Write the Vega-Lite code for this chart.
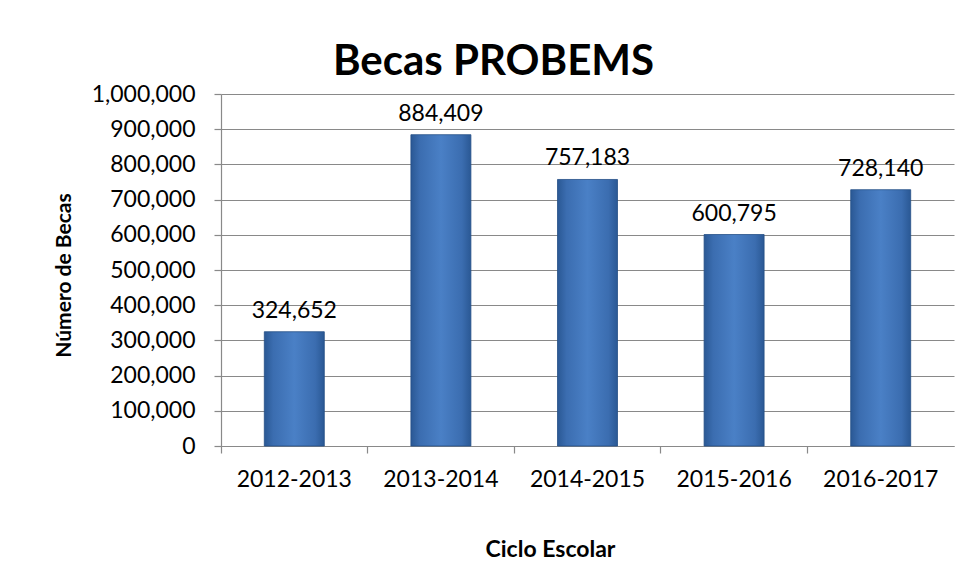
{
  "$schema": "https://vega.github.io/schema/vega-lite/v6.json",
  "autosize": "none",
  "width": 733,
  "height": 352,
  "padding": {"left": 221, "top": 94, "right": 21, "bottom": 134},
  "background": "white",
  "title": {
    "text": "Becas PROBEMS",
    "font": "Lato",
    "fontSize": 42,
    "fontWeight": "bold",
    "color": "black",
    "anchor": "middle",
    "frame": "group",
    "dx": -94,
    "dy": 42,
    "baseline": "alphabetic",
    "offset": 8
  },
  "data": {
    "values": [
      {"ciclo": "2012-2013", "becas": 324652},
      {"ciclo": "2013-2014", "becas": 884409},
      {"ciclo": "2014-2015", "becas": 757183},
      {"ciclo": "2015-2016", "becas": 600795},
      {"ciclo": "2016-2017", "becas": 728140}
    ]
  },
  "encoding": {
    "x": {
      "field": "ciclo",
      "type": "nominal",
      "sort": null,
      "scale": {"paddingInner": 0, "paddingOuter": 0},
      "axis": {
        "title": "Ciclo Escolar",
        "titleFont": "Lato",
        "titleFontSize": 23,
        "titleFontWeight": "bold",
        "titleColor": "black",
        "titleX": 329,
        "titleY": 103,
        "titleBaseline": "middle",
        "titleAlign": "center",
        "labelAngle": 0,
        "labelFont": "Lato",
        "labelFontSize": 23,
        "labelColor": "black",
        "labelBaseline": "middle",
        "labelPadding": 26,
        "tickSize": 7,
        "tickColor": "#898989",
        "tickWidth": 1.2,
        "bandPosition": 0,
        "domainColor": "#898989",
        "domainWidth": 1.2,
        "grid": false
      }
    },
    "y": {
      "field": "becas",
      "type": "quantitative",
      "scale": {"domain": [0, 1000000], "nice": false},
      "axis": {
        "title": "Número de Becas",
        "titleFont": "Lato",
        "titleFontSize": 21,
        "titleFontWeight": "bold",
        "titleColor": "black",
        "titleX": -157,
        "titleY": 181,
        "titleAngle": 270,
        "titleBaseline": "middle",
        "titleAlign": "center",
        "values": [0, 100000, 200000, 300000, 400000, 500000, 600000, 700000, 800000, 900000, 1000000],
        "format": ",d",
        "labelFont": "Lato",
        "labelFontSize": 23,
        "labelColor": "black",
        "labelPadding": 19,
        "tickSize": 7,
        "tickColor": "#898989",
        "tickWidth": 1.2,
        "domainColor": "#898989",
        "domainWidth": 1.2,
        "grid": true,
        "gridColor": "#898989",
        "gridWidth": 1.2
      }
    }
  },
  "layer": [
    {
      "mark": {
        "type": "bar",
        "width": 60,
        "stroke": "#244f86",
        "strokeWidth": 0.8,
        "color": {
          "gradient": "linear",
          "x1": 0, "y1": 0, "x2": 1, "y2": 0,
          "stops": [
            {"offset": 0, "color": "#2a5894"},
            {"offset": 0.15, "color": "#3b6db0"},
            {"offset": 0.5, "color": "#4a80c6"},
            {"offset": 0.85, "color": "#3b6db0"},
            {"offset": 1, "color": "#2a5894"}
          ]
        }
      }
    },
    {
      "mark": {
        "type": "text",
        "font": "Lato",
        "fontSize": 23,
        "color": "black",
        "baseline": "alphabetic",
        "dy": -14
      },
      "encoding": {
        "text": {"field": "becas", "type": "quantitative", "format": ","}
      }
    }
  ],
  "config": {
    "view": {"stroke": null}
  }
}
